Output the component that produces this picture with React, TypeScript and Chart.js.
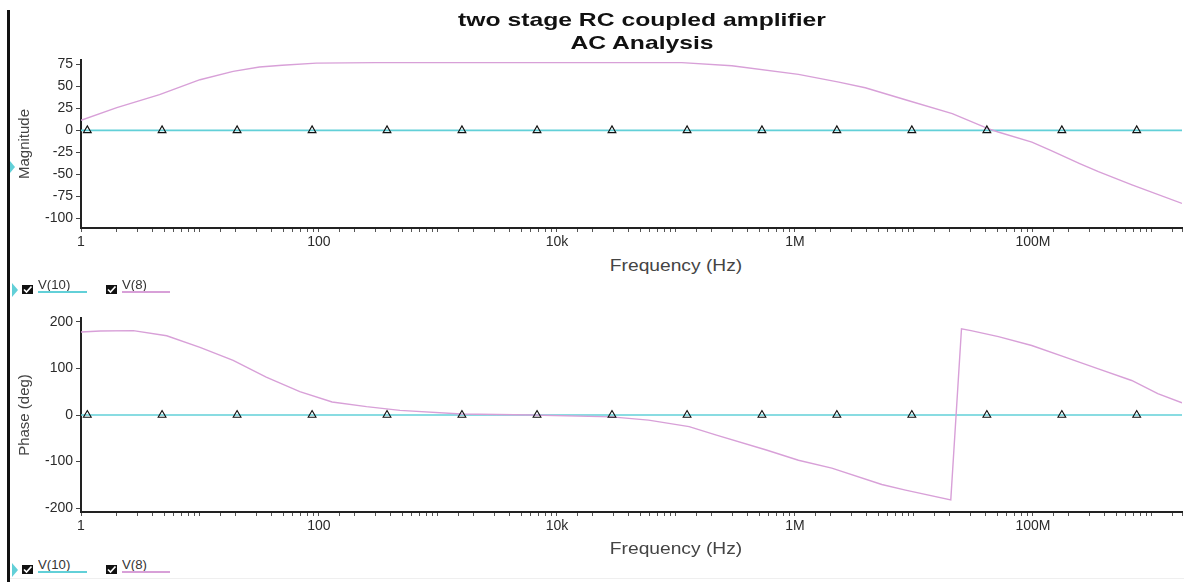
import React, { useEffect, useRef } from 'react';
import { Chart, registerables } from 'chart.js';

Chart.register(...registerables);

const FONT = '"Liberation Sans", Arial, Helvetica, sans-serif';
const CYAN = '#62d0d8';
const PINK = '#d8a0d8';

// x axis (Hz)
const xRange = [1, 1.79e9];
const xTickValues = [1, 100, 1e4, 1e6, 1e8];
const xTickLabels = ['1', '100', '10k', '1M', '100M'];

// Magnitude panel
const magRange = [-111, 80];
const magStep = 25;
const magFreq = [1, 2, 4.57, 10, 19, 31.6, 49, 95, 300, 3000, 30000, 112000, 295000, 1.07e6, 2.34e6, 3.9e6, 8.9e6, 2.1e7, 4.2e7, 5.1e7, 9.8e7, 1.41e8, 2.5e8, 3.55e8, 6.8e8, 1.79e9];
const magV8 = [11.4, 25.8, 40.6, 57.6, 67, 72, 74, 76.5, 77, 77, 77, 77, 73.5, 63.6, 54.9, 48.5, 34, 19, 1.9, -1.9, -13.3, -22.7, -38, -47, -62, -83];

// V(10) flat trace + its triangle markers (both panels)
const v10Freq = [1, 1.79e9];
const v10Level = [0, 0];
const markerFreq = [1.13, 4.8, 20.5, 87.5, 373, 1590, 6800, 29000, 124000, 528000, 2.25e6, 9.6e6, 4.1e7, 1.75e8, 7.45e8];
const markerLevel = [0, 0, 0, 0, 0, 0, 0, 0, 0, 0, 0, 0, 0, 0, 0];

// Phase panel
const phaseRange = [-208, 208];
const phaseStep = 100;
const phaseFreq = [1, 1.45, 2.75, 5.25, 10, 19, 36, 69, 129, 251, 479, 1580, 6170, 28800, 58900, 129000, 219000, 575000, 1.07e6, 2.04e6, 5.37e6, 8.5e6, 2.04e7, 2.51e7, 3.02e7, 5.13e7, 9.77e7, 1.86e8, 3.55e8, 6.76e8, 1.12e9, 1.79e9];
const phaseV8 = [178, 180, 181, 170, 145, 117, 81, 50, 28, 18, 10, 2, 0, -4, -11, -25, -43, -75, -97, -114, -149, -161, -182, 185, 181, 168, 149, 124, 99, 74, 46, 26];

const pts = (xs: number[], ys: number[]) => xs.map((x, i) => ({ x, y: ys[i] }));

function xLabel(value: number): string {
  for (let i = 0; i < xTickValues.length; i++) {
    if (Math.abs(Math.log10(value) - Math.log10(xTickValues[i])) < 1e-6) return xTickLabels[i];
  }
  return '';
}

type PanelOpts = {
  v8Freq: number[];
  v8: number[];
  yRange: number[];
  step: number;
  yTitle: string;
  padTop: number;
  axisH: number;
};

function makeConfig(o: PanelOpts): any {
  return {
    type: 'line',
    data: {
      datasets: [
        {
          label: 'markers',
          data: pts(markerFreq, markerLevel),
          showLine: false,
          pointStyle: 'triangle',
          pointRadius: 4.5,
          pointBorderColor: '#111',
          pointBackgroundColor: 'rgba(0,0,0,0)',
          pointBorderWidth: 1.1,
          order: 0,
        },
        {
          label: 'V(8)',
          data: pts(o.v8Freq, o.v8),
          borderColor: PINK,
          borderWidth: 1.4,
          pointRadius: 0,
          tension: 0,
          order: 1,
        },
        {
          label: 'V(10)',
          data: pts(v10Freq, v10Level),
          borderColor: CYAN,
          borderWidth: 1.6,
          pointRadius: 0,
          order: 2,
        },
      ],
    },
    options: {
      animation: false,
      responsive: false,
      maintainAspectRatio: false,
      devicePixelRatio: 1,
      layout: { autoPadding: false, padding: { left: 10, right: 0, top: o.padTop, bottom: 0 } },
      plugins: { legend: { display: false }, tooltip: { enabled: false }, title: { display: false } },
      events: [],
      scales: {
        x: {
          type: 'logarithmic',
          min: xRange[0],
          max: xRange[1],
          border: { display: true, color: '#222', width: 2 },
          grid: { display: true, drawOnChartArea: false, drawTicks: true, tickLength: 4, color: '#555', lineWidth: 1 },
          ticks: {
            autoSkip: false,
            maxRotation: 0,
            minRotation: 0,
            padding: 2,
            color: '#2a2a2a',
            font: { family: FONT, size: 14 },
            callback: (v: any) => xLabel(Number(v)),
          },
          afterFit: (s: any) => {
            s.height = o.axisH;
          },
        },
        y: {
          type: 'linear',
          min: o.yRange[0],
          max: o.yRange[1],
          border: { display: true, color: '#222', width: 2 },
          grid: { display: true, drawOnChartArea: false, drawTicks: true, tickLength: 5, color: '#444' },
          ticks: {
            stepSize: o.step,
            includeBounds: false,
            padding: 3,
            color: '#2a2a2a',
            font: { family: FONT, size: 14 },
          },
          title: {
            display: true,
            text: o.yTitle,
            color: '#444',
            font: { family: FONT, size: 15 },
            padding: { top: 6, bottom: 0 },
          },
          afterFit: (s: any) => {
            s.width = 71;
          },
        },
      },
    },
  };
}

function Panel({ top, height, opts }: { top: number; height: number; opts: PanelOpts }) {
  const ref = useRef<HTMLCanvasElement>(null);
  useEffect(() => {
    const chart = new Chart(ref.current as HTMLCanvasElement, makeConfig(opts));
    return () => chart.destroy();
  }, []);
  return (
    <canvas
      ref={ref}
      width={1184}
      height={height}
      style={{ position: 'absolute', left: 0, top, width: 1184, height, display: 'block' }}
    />
  );
}

function CheckBox({ left, top }: { left: number; top: number }) {
  return (
    <div style={{ position: 'absolute', left, top, width: 11, height: 9, background: '#111' }}>
      <svg width={11} height={9} style={{ position: 'absolute', left: 0, top: 0 }}>
        <polyline points="2,4.5 4.5,7 9.5,1.5" fill="none" stroke="#fff" strokeWidth={1.7} />
      </svg>
    </div>
  );
}

function LegendRow({ y }: { y: number }) {
  const text: React.CSSProperties = {
    position: 'absolute',
    font: `12px ${FONT}`,
    lineHeight: '12px',
    color: '#333',
    whiteSpace: 'nowrap',
    transform: 'scaleX(1.1)',
    transformOrigin: 'left center',
  };
  return (
    <>
      <div
        style={{
          position: 'absolute',
          left: 12,
          top: y - 7,
          width: 0,
          height: 0,
          borderTop: '7px solid transparent',
          borderBottom: '7px solid transparent',
          borderLeft: `6px solid ${CYAN}`,
        }}
      />
      <CheckBox left={22} top={y - 5} />
      <div style={{ ...text, left: 38, top: y - 11 }}>V(10)</div>
      <div style={{ position: 'absolute', left: 38, top: y + 1, width: 49, height: 1.5, background: CYAN }} />
      <CheckBox left={106} top={y - 5} />
      <div style={{ ...text, left: 122, top: y - 11 }}>V(8)</div>
      <div style={{ position: 'absolute', left: 122, top: y + 1, width: 48, height: 1.5, background: PINK }} />
    </>
  );
}

function CenterText({ x, y, size, bold, color, sx, children }: any) {
  return (
    <div
      style={{
        position: 'absolute',
        left: x,
        top: y,
        transform: `translate(-50%, -50%) scaleX(${sx})`,
        font: `${bold ? 'bold ' : ''}${size}px ${FONT}`,
        lineHeight: `${Math.round(size * 1.2)}px`,
        color,
        whiteSpace: 'nowrap',
      }}
    >
      {children}
    </div>
  );
}

const magOpts: PanelOpts = {
  v8Freq: magFreq,
  v8: magV8,
  yRange: magRange,
  step: magStep,
  yTitle: 'Magnitude',
  padTop: 60,
  axisH: 22,
};

const phaseOpts: PanelOpts = {
  v8Freq: phaseFreq,
  v8: phaseV8,
  yRange: phaseRange,
  step: phaseStep,
  yTitle: 'Phase (deg)',
  padTop: 28,
  axisH: 28,
};

export default function App() {
  return (
    <div
      style={{
        position: 'absolute',
        left: 0,
        top: 0,
        width: 1184,
        height: 582,
        overflow: 'hidden',
        background: '#fff',
      }}
    >
      <Panel top={0} height={250} opts={magOpts} />
      <Panel top={290} height={250} opts={phaseOpts} />

      <CenterText x={642} y={19} size={19} bold color="#111" sx={1.3}>
        two stage RC coupled amplifier
      </CenterText>
      <CenterText x={642} y={42} size={19} bold color="#111" sx={1.3}>
        AC Analysis
      </CenterText>

      <CenterText x={676} y={265} size={16} color="#444" sx={1.2}>
        Frequency (Hz)
      </CenterText>
      <CenterText x={676} y={548} size={16} color="#444" sx={1.2}>
        Frequency (Hz)
      </CenterText>

      <div style={{ position: 'absolute', left: 7, top: 10, width: 3, height: 572, background: '#111' }} />
      <div
        style={{
          position: 'absolute',
          left: 10,
          top: 161,
          width: 0,
          height: 0,
          borderTop: '6px solid transparent',
          borderBottom: '6px solid transparent',
          borderLeft: `5px solid ${CYAN}`,
        }}
      />
      <LegendRow y={290} />
      <LegendRow y={570} />
      <div style={{ position: 'absolute', left: 10, top: 578, width: 1174, height: 1, background: '#efefef' }} />
    </div>
  );
}
